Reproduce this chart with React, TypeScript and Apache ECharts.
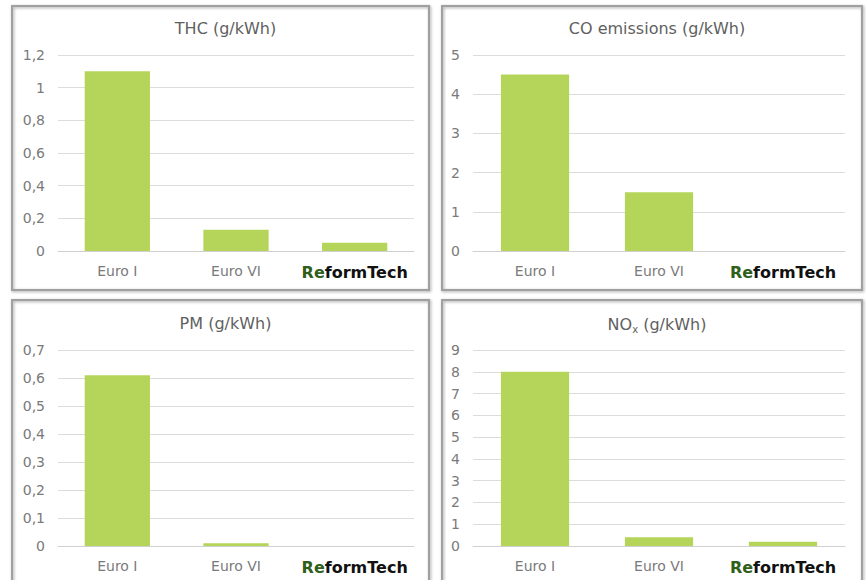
import React, { useEffect, useRef } from "react";
import * as echarts from "echarts";

const categories = ["Euro I", "Euro VI", "ReformTech"];
const thcValues = [1.1, 0.13, 0.05];
const coValues = [4.5, 1.5, 0];
const pmValues = [0.61, 0.01, 0];
const noxValues = [8, 0.4, 0.2];

const thcAxis = { max: 1.2, interval: 0.2 };
const coAxis = { max: 5, interval: 1 };
const pmAxis = { max: 0.7, interval: 0.1 };
const noxAxis = { max: 9, interval: 1 };

const BAR = "#b5d55a";
const TXT = "#7a7a7a";
const FONT = "'DejaVu Sans', Verdana, sans-serif";

const panels = [
  { x: 12, y: 6, w: 417, h: 284 },
  { x: 442, y: 6, w: 420, h: 284 },
  { x: 12, y: 300, w: 417, h: 290 },
  { x: 442, y: 300, w: 420, h: 290 },
];

const grids = [
  { left: 58, top: 55, width: 356, height: 196 },
  { left: 473, top: 55, width: 372, height: 196 },
  { left: 58, top: 350, width: 356, height: 196 },
  { left: 473, top: 350, width: 372, height: 196 },
];

const titles = [
  { text: "THC (g/kWh)", cx: 220.5, y: 15 },
  { text: "CO emissions (g/kWh)", cx: 652, y: 15 },
  { text: "PM (g/kWh)", cx: 220.5, y: 310 },
  { text: "NO{sub|x} (g/kWh)", cx: 652, y: 310 },
];

const fmt = (v: number) => String(Number(v.toFixed(2))).replace(".", ",");

export default function App() {
  const ref = useRef<HTMLDivElement>(null);
  useEffect(() => {
    if (!ref.current) return;
    const chart = echarts.init(ref.current, undefined, { renderer: "svg" });
    const axes = [thcAxis, coAxis, pmAxis, noxAxis];
    const data = [thcValues, coValues, pmValues, noxValues];
    chart.setOption({
      animation: false,
      backgroundColor: "#ffffff",
      title: titles.map((t) => ({
        text: t.text,
        left: t.cx,
        top: t.y,
        textAlign: "center",
        textStyle: {
          fontFamily: FONT,
          fontSize: 16,
          fontWeight: "normal",
          color: "#5f5f5f",
          rich: {
            sub: { fontFamily: FONT, fontSize: 10, color: "#5f5f5f", padding: [9, 0, 0, 0] },
          },
        },
      })),
      grid: grids.map((g) => ({ ...g, containLabel: false })),
      xAxis: grids.map((_, i) => ({
        type: "category",
        gridIndex: i,
        data: categories,
        axisTick: { show: false },
        axisLine: { show: true, lineStyle: { color: "#d0d0d0", width: 1 } },
        axisLabel: {
          margin: 13,
          fontFamily: FONT,
          fontSize: 14,
          color: TXT,
          interval: 0,
          formatter: (v: string) => (v === "ReformTech" ? "{a|Re}{b|formTech}" : v),
          rich: {
            a: { fontFamily: FONT, fontSize: 16, fontWeight: "bold", color: "#2f5f1a" },
            b: { fontFamily: FONT, fontSize: 16, fontWeight: "bold", color: "#111111" },
          },
        },
      })),
      yAxis: axes.map((a, i) => ({
        type: "value",
        gridIndex: i,
        min: 0,
        max: a.max,
        interval: a.interval,
        axisLine: { show: false },
        axisTick: { show: false },
        splitLine: { lineStyle: { color: "#dcdcdc", width: 1 } },
        axisLabel: {
          margin: 13,
          fontFamily: FONT,
          fontSize: 14,
          color: TXT,
          formatter: (v: number) => fmt(v),
        },
      })),
      series: data.map((d, i) => ({
        type: "bar",
        xAxisIndex: i,
        yAxisIndex: i,
        data: d,
        barWidth: "55%",
        itemStyle: { color: BAR },
      })),
      graphic: panels.map((p) => ({
        type: "rect",
        shape: { x: p.x, y: p.y, width: p.w, height: p.h },
        style: {
          fill: "none",
          stroke: "#a0a0a0",
          lineWidth: 2,
          shadowBlur: 3,
          shadowOffsetX: 1,
          shadowOffsetY: 1,
          shadowColor: "rgba(0,0,0,0.35)",
        },
        silent: true,
        z: 100,
      })),
    });
    return () => chart.dispose();
  }, []);
  return (
    <div
      ref={ref}
      style={{ position: "fixed", left: 0, top: 0, width: 866, height: 580 }}
    />
  );
}
